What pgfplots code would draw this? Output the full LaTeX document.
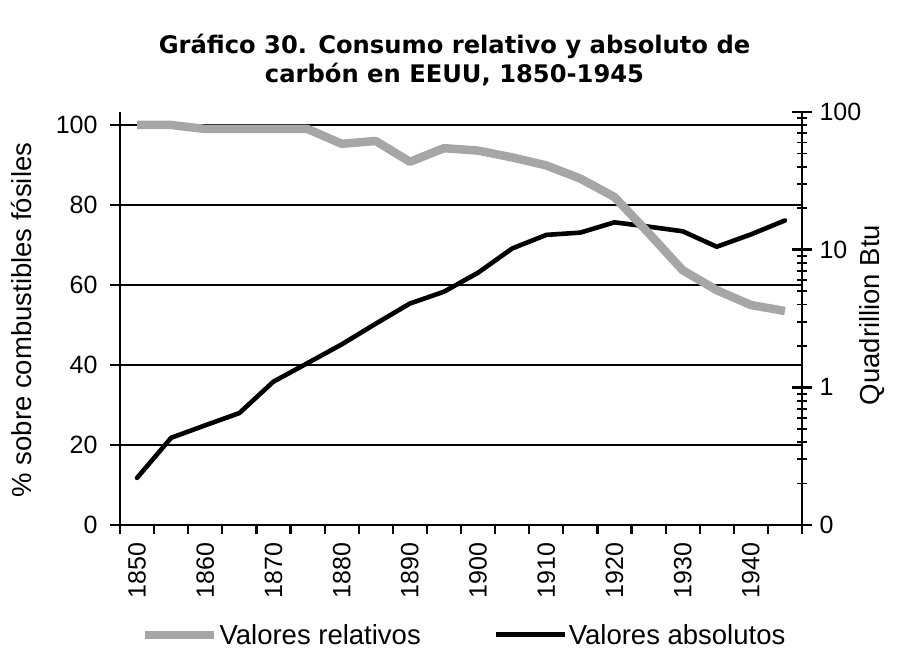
\documentclass[border=0pt]{standalone}
\usepackage{pgfplots}
\pgfplotsset{compat=1.18}
\usepackage{fontspec}
\setmainfont{Liberation Sans}
\newfontfamily\titlefont{DejaVu Sans}
\definecolor{relgray}{RGB}{166,166,166}
\pgfplotstableread{
year rel abs
1850 100   0.22
1855 100   0.43
1860 99.0  0.53
1865 99.0  0.65
1870 99.0  1.10
1875 99.0  1.50
1880 95.3  2.05
1885 96.0  2.90
1890 90.8  4.06
1895 94.2  4.95
1900 93.6  6.80
1905 91.9  10.2
1910 89.9  12.8
1915 86.6  13.3
1920 82.0  15.8
1925 73.0  14.7
1930 63.7  13.6
1935 58.7  10.5
1940 55.0  12.9
1945 53.5  16.3
}\datatable
\begin{document}
\begin{tikzpicture}
\useasboundingbox (-120pt,-126pt) rectangle (790pt,525pt);
\pgfplotsset{
  base/.style={
    scale only axis, width=682pt, height=413pt, at={(0pt,0pt)}, anchor=south west,
    xmin=1847.5, xmax=1947.5,
    tick label style={font=\fontsize{25}{30}\selectfont},
    /pgf/number format/assume math mode=true,
    axis line style={-, line width=2.6pt, black},
    x axis line style={-}, y axis line style={-},
  }
}
% axis 1: left axis, grid, x axis
\begin{axis}[base,
  ymin=0, ymax=103.25,
  axis x line*=bottom, axis y line*=left,
  xtick align=outside, ytick align=center,
  ytick={0,20,40,60,80,100}, yticklabels={0,20,40,60,80,100},
  ymajorgrids, grid style={black, line width=1.8pt},
  major y tick style={line width=2.2pt, black},
  major tick length=20pt,
  xtick={1850,1860,1870,1880,1890,1900,1910,1920,1930,1940},
  xticklabels={1850,1860,1870,1880,1890,1900,1910,1920,1930,1940},
  major x tick style={draw=none},
  minor xtick={1847.5,1852.5,...,1947.5},
  minor x tick style={line width=2.2pt, black},
  minor tick length=9pt,
  xticklabel style={rotate=90, anchor=east, xshift=6pt},
  yticklabel style={xshift=-9pt},
]
\addplot[draw=none] table[x=year,y=rel]{\datatable};
\end{axis}
% axis 2: right log axis, absolute values
\begin{axis}[base,
  ymode=log, ymin=0.1, ymax=100,
  axis x line=none, axis y line*=right,
  ytick align=center,
  ytick={0.1,1,10,100}, yticklabels={0,1,10,100},
  minor ytick={0.2,0.3,0.4,0.5,0.6,0.7,0.8,0.9,2,3,4,5,6,7,8,9,20,30,40,50,60,70,80,90},
  major y tick style={line width=2.6pt, black},
  minor y tick style={line width=1.8pt, black},
  major tick length=20pt, minor tick length=10pt,
  yticklabel style={xshift=4pt},
  xtick=\empty,
]
\addplot[black, line width=4.6pt, line join=round, line cap=round] table[x=year,y=abs]{\datatable};
\end{axis}
% axis 3: relative values on top
\begin{axis}[base,
  ymin=0, ymax=103.25, hide axis,
  legend style={draw=none, fill=none, at={(0.504,-0.266)}, anchor=center,
    legend columns=2, font=\fontsize{27.5}{32}\selectfont,
    nodes={inner xsep=1pt, inner ysep=1pt},
    /tikz/every even column/.append style={column sep=72pt}},
  legend image code/.code={\draw[#1] (-1pt,0pt) -- (68pt,0pt);},
]
\addplot[relgray, line width=8.5pt, line join=round] table[x=year,y=rel]{\datatable};
\addlegendentry{Valores relativos}
\addlegendimage{black, line width=5pt}
\addlegendentry{Valores absolutos}
\end{axis}
\node[align=center, font=\titlefont\bfseries\fontsize{24.2}{29}\selectfont] at (334.5pt,465pt)
  {Gráfico 30. Consumo relativo y absoluto de\\carbón en EEUU, 1850-1945};
\node[rotate=90, font=\fontsize{27.5}{32}\selectfont] at (-98pt,205pt) {\% sobre combustibles fósiles};
\node[rotate=90, font=\fontsize{27.5}{32}\selectfont] at (752pt,210pt) {Quadrillion Btu};
\end{tikzpicture}
\end{document}
